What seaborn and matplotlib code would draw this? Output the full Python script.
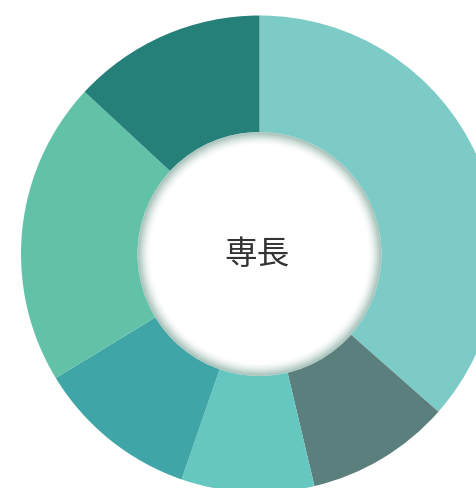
import numpy as np
import seaborn as sns
import matplotlib.pyplot as plt
from matplotlib.patches import Circle, Wedge

sns.set_theme(style="white")
plt.rcParams['font.family'] = ['Noto Sans CJK JP', 'DejaVu Sans']

# slice shares, clockwise from 12 o'clock
categories = ['A', 'B', 'C', 'D', 'E', 'F']
values = [36.5, 9.8, 9.0, 11.0, 20.6, 13.1]
colors = ['#7ccbc6', '#5a7f7c', '#66c6c0', '#40a5a6', '#62c2a7', '#25807a']
center_label = '専長'

W, H = 477, 488
cx, cy, R = 259.5, 254, 238.5   # pixel centre and outer radius
r_in = 122 / R                  # hole radius in units of R

fig = plt.figure(figsize=(W / 100, H / 100), dpi=100)
ax = fig.add_axes([0, 0, 1, 1])

ax.pie(values, colors=colors, startangle=90, counterclock=False,
       radius=1, wedgeprops=dict(linewidth=0, antialiased=True))

# white hole with a soft inset shadow round its rim
ax.add_patch(Circle((0, 0), r_in, facecolor='white', edgecolor='none', zorder=3))
shade_w = 13 / R
n = 20
for i in range(n):
    a = 0.5 * (1 - i / n) ** 2
    ax.add_patch(Wedge((0, 0), r_in - shade_w * i / n, 0, 360,
                       width=shade_w / n + 0.002, facecolor='#7aa397',
                       edgecolor='none', alpha=a, zorder=4))

ax.text(-3 / R, -1 / R, center_label, ha='center', va='center',
        fontsize=23.5, color='#333333', zorder=5)

ax.set_xlim(-cx / R, (W - cx) / R)
ax.set_ylim(-(H - cy) / R, cy / R)
ax.set_aspect('equal')
ax.axis('off')

fig.savefig('out.png', dpi=100, facecolor='white')
